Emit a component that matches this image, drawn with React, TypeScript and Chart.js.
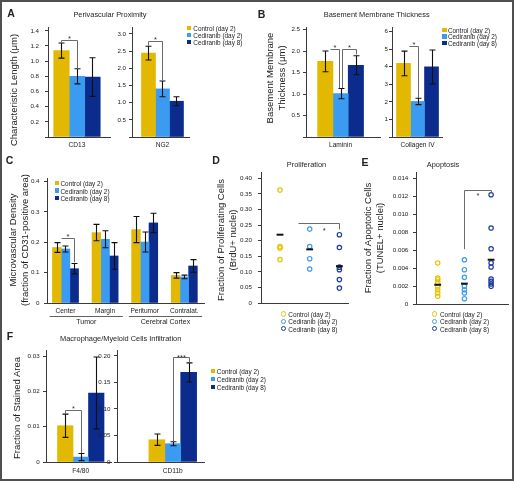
import React, { useEffect, useRef } from 'react';
import { Chart, registerables } from 'chart.js';

Chart.register(...registerables);

const FONT = '"Liberation Sans", Arial, Helvetica, sans-serif';
const INK = '#222';
const AXIS = '#3a3a3a';
const BRACKET = '#6b6b6b';

const seriesNames = ['Control (day 2)', 'Cediranib (day 2)', 'Cediranib (day 8)'];
const barColors = ['#E2B900', '#3B9BF1', '#0B2C8D'];
const dotColors = ['#E9C200', '#3E9CEB', '#1C3D9E'];

// ---- A: Perivascular Proximity
const periCD13Cats = ['CD13'];
const periCD13Control = [1.14];
const periCD13Ced2 = [0.8];
const periCD13Ced8 = [0.79];
const periCD13ControlErr = [0.1];
const periCD13Ced2Err = [0.1];
const periCD13Ced8Err = [0.255];

const periNG2Cats = ['NG2'];
const periNG2Control = [2.44];
const periNG2Ced2 = [1.4];
const periNG2Ced8 = [1.04];
const periNG2ControlErr = [0.2];
const periNG2Ced2Err = [0.23];
const periNG2Ced8Err = [0.13];

// ---- B: Basement Membrane Thickness
const bmLamCats = ['Laminin'];
const bmLamControl = [1.76];
const bmLamCed2 = [1.01];
const bmLamCed8 = [1.67];
const bmLamControlErr = [0.24];
const bmLamCed2Err = [0.12];
const bmLamCed8Err = [0.22];

const bmColCats = ['Collagen IV'];
const bmColControl = [4.18];
const bmColCed2 = [2.02];
const bmColCed8 = [3.98];
const bmColControlErr = [0.7];
const bmColCed2Err = [0.18];
const bmColCed8Err = [0.96];

// ---- C: Microvascular density
const mvdCats = ['Center', 'Margin', 'Peritumor', 'Contralat.'];
const mvdGroups = [
  { label: 'Tumor', from: 0, to: 1 },
  { label: 'Cerebral Cortex', from: 2, to: 3 },
];
const mvdControl = [0.183, 0.232, 0.242, 0.091];
const mvdCed2 = [0.178, 0.21, 0.201, 0.086];
const mvdCed8 = [0.113, 0.155, 0.264, 0.122];
const mvdControlErr = [0.016, 0.027, 0.043, 0.009];
const mvdCed2Err = [0.01, 0.028, 0.033, 0.006];
const mvdCed8Err = [0.017, 0.044, 0.032, 0.021];

// ---- D: Proliferation (BrdU+)
const prolControl = [0.362, 0.181, 0.176, 0.139];
const prolCed2 = [0.237, 0.181, 0.142, 0.109];
const prolCed8 = [0.219, 0.178, 0.115, 0.107, 0.075, 0.048];
const prolMeans = [0.219, 0.172, 0.118];

// ---- E: Apoptosis (TUNEL+)
const apoControl = [0.00456, 0.00289, 0.0027, 0.0024, 0.00189, 0.00159, 0.00122, 0.00085];
const apoCed2 = [0.00492, 0.00381, 0.00296, 0.00196, 0.00159, 0.00122, 0.00059];
const apoCed8 = [0.01214, 0.00844, 0.00614, 0.00456, 0.00411, 0.00278, 0.00251, 0.00222, 0.00196];
const apoMeans = [0.00214, 0.00226, 0.00492];

// ---- F: Macrophage / myeloid infiltration
const infF480Cats = ['F4/80'];
const infF480Control = [0.0103];
const infF480Ced2 = [0.0014];
const infF480Ced8 = [0.0196];
const infF480ControlErr = [0.0033];
const infF480Ced2Err = [0.001];
const infF480Ced8Err = [0.0102];

const infCD11bCats = ['CD11b'];
const infCD11bControl = [0.042];
const infCD11bCed2 = [0.0345];
const infCD11bCed8 = [0.169];
const infCD11bControlErr = [0.0107];
const infCD11bCed2Err = [0.0038];
const infCD11bCed8Err = [0.018];

type Bracket = { cat?: number; a: number; b: number; y: number; ya?: number; yb?: number; label: string; ly?: number; lx?: number };
type Group = { label: string; from: number; to: number };
type Box = { L: number; T: number; R: number; B: number };

const AY = 44, PT = 14, PR = 10, AX = 34;
function geom(b: Box) {
  const cx = b.L - AY, cy = b.T - PT;
  return { cx, cy, cw: b.R - cx + PR, ch: b.B - cy + AX };
}

function dsX(chart: any, ds: number, cat: number) {
  const n = chart.data.datasets.length;
  const lo = Math.max(0, Math.floor(ds));
  const hi = Math.min(Math.ceil(ds), n - 1);
  const f = ds - lo;
  const xl = chart.getDatasetMeta(lo).data[cat].x;
  const xh = chart.getDatasetMeta(hi).data[cat].x;
  return xl + (xh - xl) * f;
}

function annotations(errs: number[][] | null, brackets: Bracket[], groups: Group[] | null) {
  return {
    id: 'annot',
    afterDatasetsDraw(chart: any) {
      const ctx = chart.ctx as CanvasRenderingContext2D;
      const ys = chart.scales.y;
      ctx.save();
      if (errs) {
        ctx.strokeStyle = '#111';
        ctx.lineWidth = 1.1;
        errs.forEach((list, di) => {
          const meta = chart.getDatasetMeta(di);
          list.forEach((e, i) => {
            const v = chart.data.datasets[di].data[i].y;
            const x = Math.round(meta.data[i].x) + 0.5;
            const yt = ys.getPixelForValue(v + e);
            const yb = ys.getPixelForValue(Math.max(v - e, 0));
            ctx.beginPath();
            ctx.moveTo(x, yt); ctx.lineTo(x, yb);
            ctx.moveTo(x - 3, yt); ctx.lineTo(x + 3, yt);
            ctx.moveTo(x - 3, yb); ctx.lineTo(x + 3, yb);
            ctx.stroke();
          });
        });
      }
      brackets.forEach((br) => {
        const cat = br.cat ?? 0;
        const xa = Math.round(dsX(chart, br.a, cat)) + 0.5;
        const xb = Math.round(dsX(chart, br.b, cat)) + 0.5;
        const yl = Math.round(ys.getPixelForValue(br.y)) + 0.5;
        ctx.strokeStyle = BRACKET;
        ctx.lineWidth = 1;
        ctx.beginPath();
        if (br.ya !== undefined) { ctx.moveTo(xa, ys.getPixelForValue(br.ya)); ctx.lineTo(xa, yl); } else ctx.moveTo(xa, yl);
        ctx.lineTo(xb, yl);
        if (br.yb !== undefined) ctx.lineTo(xb, ys.getPixelForValue(br.yb));
        ctx.stroke();
        ctx.fillStyle = '#333';
        ctx.font = `7.5px ${FONT}`;
        ctx.textAlign = 'center';
        ctx.textBaseline = 'alphabetic';
        const lx = xa + (xb - xa) * (br.lx ?? 0.5);
        ctx.fillText(br.label, lx, yl + (br.ly ?? 0));
      });
      ctx.restore();
    },
    afterDraw(chart: any) {
      if (!groups) return;
      const ctx = chart.ctx as CanvasRenderingContext2D;
      const xs = chart.scales.x;
      const base = chart.chartArea.bottom;
      ctx.save();
      groups.forEach((g) => {
        const x0 = xs.getPixelForValue(g.from + 1 - 0.4);
        const x1 = xs.getPixelForValue(g.to + 1 + 0.45);
        ctx.strokeStyle = AXIS;
        ctx.lineWidth = 0.8;
        ctx.beginPath();
        ctx.moveTo(x0, base + 13.5);
        ctx.lineTo(x1, base + 13.5);
        ctx.stroke();
        ctx.fillStyle = INK;
        ctx.font = `7px ${FONT}`;
        ctx.textAlign = 'center';
        ctx.textBaseline = 'middle';
        ctx.fillText(g.label, (x0 + x1) / 2, base + 19.5);
      });
      ctx.restore();
    },
  };
}

function yAxis(yMax: number, step: number, dec: number, gap: number, hideZero: boolean) {
  return {
    type: 'linear', min: 0, max: yMax, bounds: 'data',
    afterFit: (sc: any) => { sc.width = AY; },
    afterBuildTicks: (sc: any) => {
      sc.ticks = sc.ticks.filter((t: any) => Math.abs(t.value / step - Math.round(t.value / step)) < 1e-6);
    },
    border: { display: true, color: AXIS, width: 1 },
    grid: { display: true, drawOnChartArea: false, drawTicks: true, tickLength: 3, color: AXIS, lineWidth: 1 },
    ticks: {
      stepSize: step, includeBounds: false, autoSkip: false, padding: gap - 3, color: INK,
      font: { size: 6.2, family: FONT },
      callback: (v: any) => (Number(v) === 0 ? (hideZero ? '' : '0') : Number(v).toFixed(dec)),
    },
  };
}

type BarSpec = {
  box: Box; xMin: number; xMax: number; yMax: number; yStep: number; dec: number; hideZero: boolean;
  gap: number; thickness: number; cats: string[]; series: number[][]; errs: number[][];
  brackets: Bracket[]; groups?: Group[]; catPad: number;
};

function barConfig(s: BarSpec): any {
  return {
    type: 'bar',
    data: {
      datasets: s.series.map((vals, di) => ({
        label: seriesNames[di],
        data: vals.map((v, i) => ({ x: i + 1, y: v })),
        backgroundColor: barColors[di],
        borderWidth: 0,
        barThickness: s.thickness,
      })),
    },
    options: {
      responsive: false, animation: false, events: [],
      layout: { padding: { top: PT, right: PR, left: 0, bottom: 0 } },
      plugins: { legend: { display: false }, tooltip: { enabled: false } },
      scales: {
        x: {
          type: 'linear', min: s.xMin, max: s.xMax, offset: false, bounds: 'data',
          afterFit: (sc: any) => { sc.height = AX; },
          afterBuildTicks: (sc: any) => { sc.ticks = s.cats.map((_, i) => ({ value: i + 1 })); },
          border: { display: true, color: AXIS, width: 1 },
          grid: { display: false, drawTicks: false },
          ticks: {
            autoSkip: false, maxRotation: 0, padding: s.catPad, color: INK,
            font: { size: 6.6, family: FONT },
            callback: (v: any) => s.cats[Math.round(Number(v)) - 1] ?? '',
          },
        },
        y: yAxis(s.yMax, s.yStep, s.dec, s.gap, s.hideZero),
      },
    },
    plugins: [annotations(s.errs, s.brackets, s.groups ?? null)],
  };
}

type DotSpec = {
  box: Box; xMin: number; xMax: number; yMax: number; yStep: number; dec: number; gap: number;
  groups: number[][]; means: number[]; brackets: Bracket[];
};

function dotConfig(s: DotSpec): any {
  const datasets: any[] = s.groups.map((vals, gi) => ({
    label: seriesNames[gi],
    data: vals.map((v) => ({ x: gi + 1, y: v })),
    pointStyle: 'circle', pointRadius: 2.2, pointBorderWidth: 1.2,
    pointBorderColor: dotColors[gi], pointBackgroundColor: 'rgba(255,255,255,0)',
    showLine: false, order: 1,
  }));
  datasets.push({
    label: 'Mean',
    data: s.means.map((m, gi) => ({ x: gi + 1, y: m })),
    pointStyle: 'line', pointRadius: 3.4, pointBorderWidth: 2, pointBorderColor: '#111',
    showLine: false, order: 0,
  });
  return {
    type: 'scatter',
    data: { datasets },
    options: {
      responsive: false, animation: false, events: [],
      layout: { padding: { top: PT, right: PR, left: 0, bottom: 0 } },
      plugins: { legend: { display: false }, tooltip: { enabled: false } },
      scales: {
        x: {
          type: 'linear', min: s.xMin, max: s.xMax, bounds: 'data',
          afterFit: (sc: any) => { sc.height = AX; },
          border: { display: true, color: AXIS, width: 1 },
          grid: { display: false, drawTicks: false },
          ticks: { display: false },
        },
        y: yAxis(s.yMax, s.yStep, s.dec, s.gap, false),
      },
    },
    plugins: [annotations(null, s.brackets, null)],
  };
}

const barSpecs: BarSpec[] = [
  {
    box: { L: 48, T: 27, R: 110, B: 137 }, xMin: 0, xMax: 2.14, yMax: 1.45, yStep: 0.2, dec: 1, hideZero: true,
    gap: 9, thickness: 15.5, cats: periCD13Cats, catPad: 4,
    series: [periCD13Control, periCD13Ced2, periCD13Ced8],
    errs: [periCD13ControlErr, periCD13Ced2Err, periCD13Ced8Err],
    brackets: [{ a: 0, b: 1, y: 1.285, ya: 1.25, yb: 0.91, label: '*' }],
  },
  {
    box: { L: 132, T: 27, R: 189, B: 137 }, xMin: 0, xMax: 1.87, yMax: 3.2, yStep: 0.5, dec: 1, hideZero: true,
    gap: 6, thickness: 14, cats: periNG2Cats, catPad: 4,
    series: [periNG2Control, periNG2Ced2, periNG2Ced8],
    errs: [periNG2ControlErr, periNG2Ced2Err, periNG2Ced8Err],
    brackets: [{ a: 0, b: 1, y: 2.78, ya: 2.66, yb: 1.64, label: '*' }],
  },
  {
    box: { L: 306, T: 27, R: 380, B: 137 }, xMin: 0, xMax: 2.14, yMax: 2.56, yStep: 0.5, dec: 1, hideZero: true,
    gap: 6, thickness: 15.3, cats: bmLamCats, catPad: 4,
    series: [bmLamControl, bmLamCed2, bmLamCed8],
    errs: [bmLamControlErr, bmLamCed2Err, bmLamCed8Err],
    brackets: [
      { a: 0.3, b: 0.92, y: 2.04, yb: 1.14, label: '*' },
      { a: 1.1, b: 2, y: 2.04, ya: 1.14, yb: 1.92, label: '*' },
    ],
  },
  {
    box: { L: 392, T: 27, R: 442, B: 137 }, xMin: 0, xMax: 1.96, yMax: 6.25, yStep: 1, dec: 0, hideZero: true,
    gap: 4, thickness: 14, cats: bmColCats, catPad: 4,
    series: [bmColControl, bmColCed2, bmColCed8],
    errs: [bmColControlErr, bmColCed2Err, bmColCed8Err],
    brackets: [{ a: 0.4, b: 1, y: 5.15, yb: 2.22, label: '*' }],
  },
  {
    box: { L: 47, T: 178, R: 204, B: 303 }, xMin: 0.533, xMax: 4.498, yMax: 0.412, yStep: 0.1, dec: 1, hideZero: false,
    gap: 7.5, thickness: 8.7, cats: mvdCats, catPad: 4.7, groups: mvdGroups,
    series: [mvdControl, mvdCed2, mvdCed8],
    errs: [mvdControlErr, mvdCed2Err, mvdCed8Err],
    brackets: [{ cat: 0, a: 0.5, b: 2, y: 0.214, yb: 0.135, label: '*' }],
  },
  {
    box: { L: 46, T: 350, R: 111, B: 462 }, xMin: 0, xMax: 1.87, yMax: 0.0318, yStep: 0.01, dec: 2, hideZero: false,
    gap: 6.4, thickness: 15.5, cats: infF480Cats, catPad: 5.7,
    series: [infF480Control, infF480Ced2, infF480Ced8],
    errs: [infF480ControlErr, infF480Ced2Err, infF480Ced8Err],
    brackets: [{ a: 0, b: 1, y: 0.0149, ya: 0.0136, yb: 0.00256, label: '*' }],
  },
  {
    box: { L: 117, T: 350, R: 204, B: 462 }, xMin: 0, xMax: 1.56, yMax: 0.2113, yStep: 0.05, dec: 2, hideZero: false,
    gap: 6.6, thickness: 15.9, cats: infCD11bCats, catPad: 5.7,
    series: [infCD11bControl, infCD11bCed2, infCD11bCed8],
    errs: [infCD11bControlErr, infCD11bCed2Err, infCD11bCed8Err],
    brackets: [{ a: 1, b: 2, y: 0.198, ya: 0.039, yb: 0.187, label: '***', ly: 2 }],
  },
];

const dotSpecs: DotSpec[] = [
  {
    box: { L: 261, T: 172, R: 348, B: 303 }, xMin: 0.36, xMax: 3.29, yMax: 0.42, yStep: 0.05, dec: 2, gap: 9,
    groups: [prolControl, prolCed2, prolCed8], means: prolMeans,
    brackets: [{ a: 0.61, b: 2, y: 0.258, yb: 0.236, label: '*', ly: 9.3, lx: 0.63 }],
  },
  {
    box: { L: 416, T: 172, R: 508, B: 304 }, xMin: 0.187, xMax: 3.633, yMax: 0.01467, yStep: 0.002, dec: 3, gap: 7.7,
    groups: [apoControl, apoCed2, apoCed8], means: apoMeans,
    brackets: [{ a: 1, b: 2, y: 0.0127, ya: 0.0061, yb: 0.0124, label: '*', ly: 7.6 }],
  },
];

function ChartCanvas({ box, build }: { box: Box; build: () => any }) {
  const ref = useRef<HTMLCanvasElement>(null);
  const g = geom(box);
  useEffect(() => {
    const chart = new Chart(ref.current as HTMLCanvasElement, build());
    return () => chart.destroy();
  }, []);
  return (
    <canvas
      ref={ref}
      width={g.cw}
      height={g.ch}
      style={{ position: 'absolute', left: g.cx, top: g.cy, width: g.cw, height: g.ch }}
    />
  );
}

function Text({ x, y, size, bold, children }: { x: number; y: number; size: number; bold?: boolean; children: any }) {
  return (
    <div
      style={{
        position: 'absolute', left: x, top: y, transform: 'translate(-50%, -50%)',
        fontSize: size, lineHeight: `${size * 1.15}px`, whiteSpace: 'nowrap',
        fontWeight: bold ? 'bold' : 'normal',
      }}
    >
      {children}
    </div>
  );
}

function YTitle({ x, y, lines }: { x: number; y: number; lines: string[] }) {
  return (
    <div
      style={{
        position: 'absolute', left: x, top: y, transform: 'translate(-50%, -50%) rotate(-90deg)',
        fontSize: 9.5, lineHeight: '12px', textAlign: 'center', whiteSpace: 'nowrap',
      }}
    >
      {lines.map((l) => (
        <div key={l}>{l}</div>
      ))}
    </div>
  );
}

function Legend({ x, y, dy, kind, textDx }: { x: number; y: number; dy: number; kind: 'square' | 'circle'; textDx: number }) {
  return (
    <>
      {seriesNames.map((n, i) => (
        <React.Fragment key={n}>
          {kind === 'square' ? (
            <div style={{ position: 'absolute', left: x, top: y + i * dy - 2.2, width: 4.4, height: 4.4, background: barColors[i] }} />
          ) : (
            <div
              style={{
                position: 'absolute', left: x - 2.6, top: y + i * dy - 2.6, width: 5.2, height: 5.2,
                borderRadius: '50%', border: `1.2px solid ${dotColors[i]}`, boxSizing: 'border-box',
              }}
            />
          )}
          <div
            style={{
              position: 'absolute', left: x + textDx, top: y + i * dy, transform: 'translateY(-50%)',
              fontSize: 6.4, lineHeight: '7px', whiteSpace: 'nowrap',
            }}
          >
            {n}
          </div>
        </React.Fragment>
      ))}
    </>
  );
}

export default function App() {
  return (
    <div
      style={{
        position: 'absolute', left: 0, top: 0, width: 514, height: 481, background: '#fff',
        fontFamily: FONT, color: INK, overflow: 'hidden',
      }}
    >
      <div style={{ position: 'absolute', left: 0, top: 0, width: 514, height: 481, border: '2px solid #505050', boxSizing: 'border-box' }} />
      {barSpecs.map((s, i) => (
        <ChartCanvas key={`bar${i}`} box={s.box} build={() => barConfig(s)} />
      ))}
      {dotSpecs.map((s, i) => (
        <ChartCanvas key={`dot${i}`} box={s.box} build={() => dotConfig(s)} />
      ))}

      <Text x={11} y={12.5} size={10.5} bold>A</Text>
      <Text x={261.5} y={13.5} size={10.5} bold>B</Text>
      <Text x={9.5} y={160} size={10.5} bold>C</Text>
      <Text x={216} y={160} size={10.5} bold>D</Text>
      <Text x={365} y={161.5} size={10.5} bold>E</Text>
      <Text x={10} y={335.5} size={10.5} bold>F</Text>

      <Text x={110} y={15} size={7.4}>Perivascular Proximity</Text>
      <Text x={376.7} y={15} size={7.4}>Basement Membrane Thickness</Text>
      <Text x={306.5} y={165} size={7.4}>Proliferation</Text>
      <Text x={443} y={165} size={7.4}>Apoptosis</Text>
      <Text x={120.7} y={339.3} size={7.4}>Macrophage/Myeloid Cells Infiltration</Text>

      <YTitle x={14} y={90} lines={['Characteristic Length (μm)']} />
      <YTitle x={275.8} y={78} lines={['Basement Membrane', 'Thickness (μm)']} />
      <YTitle x={19.2} y={240} lines={['Microvascular Density', '(fraction of CD31-positive area)']} />
      <YTitle x={226.7} y={240} lines={['Fraction of Proliferating Cells', '(BrdU+ nuclei)']} />
      <YTitle x={373.8} y={238} lines={['Fraction of Apoptotic Cells', '(TUNEL+ nuclei)']} />
      <YTitle x={16.7} y={408} lines={['Fraction of Stained Area']} />

      <Legend x={186.7} y={28.3} dy={7} kind="square" textDx={6.6} />
      <Legend x={442.3} y={29.7} dy={6.7} kind="square" textDx={5.6} />
      <Legend x={54.5} y={182.7} dy={7.8} kind="square" textDx={6} />
      <Legend x={283.3} y={314} dy={7.4} kind="circle" textDx={5} />
      <Legend x={434.3} y={314} dy={7.4} kind="circle" textDx={5.7} />
      <Legend x={211} y={371} dy={8} kind="square" textDx={5.8} />
    </div>
  );
}
